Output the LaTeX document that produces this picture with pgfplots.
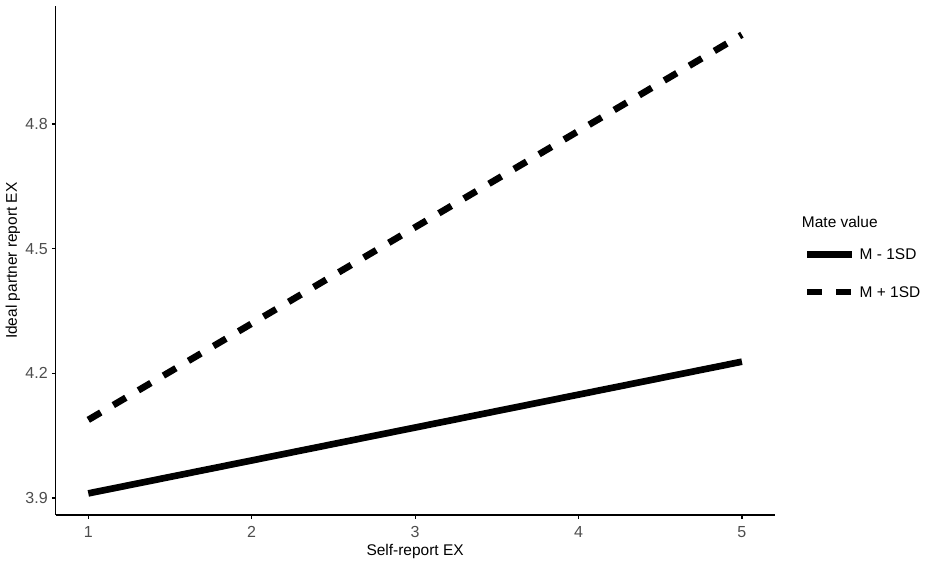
\documentclass[border=0pt]{standalone}
\usepackage{pgfplots}
\pgfplotsset{compat=1.18}
\usepackage{fontspec}
\setmainfont{Liberation Sans}
\definecolor{tickgray}{HTML}{4D4D4D}
\begin{document}
\fontsize{11.6pt}{13.6pt}\selectfont
\begin{tikzpicture}
\begin{axis}[
  at={(0,0)}, anchor=south west,
  scale only axis, width=539.25pt, height=381.4pt,
  xmin=0.8, xmax=5.2, ymin=3.859, ymax=5.083,
  xtick={1,2,3,4,5}, xticklabels={1,2,3,4,5},
  ytick={3.9,4.2,4.5,4.8}, yticklabels={3.9,4.2,4.5,4.8},
  /pgf/number format/assume math mode=true,
  axis x line*=bottom, axis y line*=left,
  axis line style={-, line width=0.9pt, black},
  tick style={line width=0.9pt, black},
  tick align=outside, major tick length=2.75pt,
  ticklabel style={font=\fontsize{12pt}{14pt}\selectfont, text=tickgray, inner sep=0pt},
  xticklabel style={anchor=north, yshift=-5.3pt},
  yticklabel style={anchor=east, xshift=-3pt},
  xlabel={Self-report EX},
  ylabel={Ideal partner report EX},
  label style={font=\fontsize{11.6pt}{13.6pt}\selectfont},
  xlabel style={at={(axis description cs:0.5,-0.0708)}, anchor=center, inner sep=0pt},
  ylabel style={at={(axis description cs:-0.0593,0.5)}, anchor=center, inner sep=0pt},
  clip=false,
  legend style={at={(axis description cs:1.041,0.5235)}, anchor=north west,
    draw=none, fill=none, inner sep=0pt, outer sep=0pt,
    column sep=3pt, row sep=20pt,
    nodes={inner sep=0pt, text height=8.3pt, text depth=0pt, anchor=west,
      font=\fontsize{11.6pt}{13.6pt}\selectfont}},
  legend cell align=left,
  legend image code/.code={\draw[#1] (0pt,0pt) -- (33.75pt,0pt);},
]
\addplot[black, line width=5pt] coordinates {(1,3.911) (5,4.228)};
\addlegendentry{M - 1SD}
\addplot[black, line width=5pt, dash pattern=on 10.9pt off 10.9pt] coordinates {(1,4.088) (5,5.015)};
\addlegendentry{M + 1SD}
\node[anchor=west, inner sep=0pt, font=\fontsize{11.6pt}{13.6pt}\selectfont] at (axis description cs:1.0377,0.5762) {Mate value};
\end{axis}
\pgfresetboundingbox
\path[use as bounding box] (-41.7pt,-37.5pt) rectangle (659.55pt,386.25pt);
\end{tikzpicture}
\end{document}
